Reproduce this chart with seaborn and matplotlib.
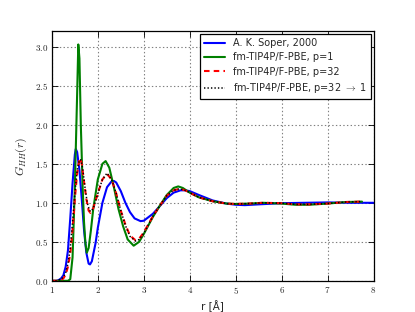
import matplotlib
matplotlib.use('Agg')
import matplotlib.pyplot as plt
import pandas as pd
import seaborn as sns
from matplotlib.ticker import FuncFormatter

# Soper 2000 reference
r_soper = [1.0, 1.1, 1.15, 1.2, 1.25, 1.3, 1.35, 1.4, 1.45, 1.5, 1.52, 1.55, 1.6, 1.65,
           1.7, 1.75, 1.8, 1.83, 1.87, 1.95, 2.0, 2.1, 2.2, 2.3, 2.35, 2.4, 2.5, 2.6,
           2.7, 2.8, 2.93, 3.0, 3.2, 3.33, 3.5, 3.65, 3.8, 3.9, 4.0, 4.2, 4.5, 4.8,
           5.0, 5.2, 5.5, 6.0, 6.5, 7.0, 7.5, 8.0]
g_soper = [0.0, 0.0, 0.01, 0.03, 0.07, 0.18, 0.39, 0.8, 1.25, 1.62, 1.69, 1.65, 1.42, 1.05,
           0.65, 0.36, 0.22, 0.21, 0.25, 0.48, 0.68, 1.0, 1.2, 1.275, 1.28, 1.26, 1.15, 1.0,
           0.88, 0.8, 0.765, 0.77, 0.86, 0.945, 1.06, 1.13, 1.16, 1.16, 1.15, 1.1, 1.03, 0.99,
           0.975, 0.97, 0.98, 0.995, 1.0, 1.005, 1.0, 1.0]

# fm-TIP4P/F-PBE, p=1
r_p1 = [1.0, 1.35, 1.4, 1.45, 1.5, 1.55, 1.575, 1.6, 1.63, 1.67, 1.7, 1.73, 1.76, 1.8,
        1.85, 1.9, 2.0, 2.1, 2.17, 2.25, 2.35, 2.45, 2.55, 2.65, 2.78, 2.9, 3.0, 3.2,
        3.33, 3.5, 3.65, 3.75, 3.85, 4.0, 4.2, 4.5, 4.8, 5.0, 5.3, 5.6, 6.0, 6.3, 6.6,
        7.0, 7.4, 7.75]
g_p1 = [0.0, 0.0, 0.02, 0.3, 1.2, 2.4, 3.03, 2.85, 2.0, 1.2, 0.75, 0.48, 0.36, 0.42,
        0.65, 0.92, 1.3, 1.5, 1.535, 1.45, 1.2, 0.92, 0.7, 0.53, 0.45, 0.5, 0.6, 0.82,
        0.945, 1.1, 1.19, 1.21, 1.19, 1.13, 1.07, 1.02, 0.99, 0.985, 0.99, 1.0, 0.99,
        0.975, 0.975, 0.99, 1.01, 1.015]

# fm-TIP4P/F-PBE, p=32
r_p32 = [1.0, 1.15, 1.2, 1.25, 1.3, 1.35, 1.4, 1.45, 1.5, 1.55, 1.6, 1.62, 1.65, 1.7,
         1.75, 1.8, 1.84, 1.9, 2.0, 2.1, 2.2, 2.3, 2.4, 2.5, 2.6, 2.7, 2.82, 2.9, 3.0,
         3.2, 3.33, 3.5, 3.65, 3.78, 3.9, 4.0, 4.2, 4.5, 4.8, 5.0, 5.3, 5.6, 6.0, 6.3,
         6.6, 7.0, 7.4, 7.75]
g_p32 = [0.0, 0.0, 0.01, 0.03, 0.08, 0.18, 0.35, 0.65, 1.05, 1.38, 1.56, 1.57, 1.5, 1.27,
         1.05, 0.9, 0.87, 0.93, 1.12, 1.3, 1.37, 1.3, 1.12, 0.9, 0.72, 0.58, 0.52, 0.54, 0.62,
         0.83, 0.945, 1.09, 1.16, 1.18, 1.16, 1.13, 1.07, 1.02, 0.99, 0.985, 0.99, 1.0, 0.995,
         0.98, 0.98, 0.99, 1.01, 1.015]

# fm-TIP4P/F-PBE, p=32 -> 1
r_p32_1 = [1.0, 1.1, 1.15, 1.2, 1.25, 1.3, 1.35, 1.4, 1.45, 1.5, 1.55, 1.6, 1.63, 1.67,
           1.72, 1.77, 1.82, 1.86, 1.92, 2.0, 2.1, 2.2, 2.3, 2.4, 2.5, 2.6, 2.7, 2.82,
           2.9, 3.0, 3.2, 3.33, 3.5, 3.65, 3.78, 3.9, 4.0, 4.2, 4.5, 4.8, 5.0, 5.3, 5.6,
           6.0, 6.3, 6.6, 7.0, 7.4, 7.75]
g_p32_1 = [0.0, 0.0, 0.01, 0.02, 0.05, 0.1, 0.22, 0.42, 0.75, 1.12, 1.42, 1.55, 1.55, 1.44,
           1.2, 1.0, 0.9, 0.89, 0.96, 1.12, 1.3, 1.38, 1.3, 1.12, 0.9, 0.71, 0.57, 0.51,
           0.53, 0.61, 0.83, 0.945, 1.09, 1.16, 1.18, 1.16, 1.13, 1.07, 1.02, 0.99, 0.985,
           0.99, 1.0, 0.995, 0.98, 0.98, 0.99, 1.01, 1.015]

labels = ['A. K. Soper, 2000', 'fm-TIP4P/F-PBE, p=1', 'fm-TIP4P/F-PBE, p=32',
          r'fm-TIP4P/F-PBE, p=32 $\rightarrow$ 1']

sns.set_style('white')
plt.rcParams['font.family'] = ['DejaVu Sans']
plt.rcParams['mathtext.fontset'] = 'cm'
plt.rcParams['lines.scale_dashes'] = False

fig, ax = plt.subplots(figsize=(4.15, 3.12), dpi=100)
fig.subplots_adjust(left=0.125, right=0.9, bottom=0.1, top=0.9)

series = [(r_soper, g_soper, 'blue', '-', 1.5),
          (r_p1, g_p1, 'green', '-', 1.5),
          (r_p32, g_p32, 'red', (0, (4, 3)), 1.5),
          (r_p32_1, g_p32_1, 'black', (0, (1, 1.5)), 1.1)]
for (x, y, c, ls, lw), lab in zip(series, labels):
    df = pd.DataFrame({'r': x, 'g': y})
    sns.lineplot(data=df, x='r', y='g', ax=ax, color=c, linestyle=ls,
                 linewidth=lw, label=lab)

ax.set_xlim(1, 8)
ax.set_ylim(0, 3.2)
ax.set_xticks(range(1, 9))
ax.set_yticks([0, 0.5, 1.0, 1.5, 2.0, 2.5, 3.0])
ax.xaxis.set_major_formatter(FuncFormatter(lambda v, p: r'$%d$' % v))
ax.yaxis.set_major_formatter(FuncFormatter(lambda v, p: r'$%.1f$' % v))
ax.tick_params(direction='in', length=4, width=0.6, labelsize=6.5, color='black',
               top=True, right=True, bottom=True, left=True, pad=3)
ax.grid(True, color='gray', linestyle=':', linewidth=0.8)
for s in ax.spines.values():
    s.set_color('black')
    s.set_linewidth(0.9)

ax.set_xlabel(r'r [Å]', fontsize=7.5, labelpad=3)
ax.set_ylabel(r'$G_{HH}(r)$', fontsize=8.5)

leg = ax.legend(loc='upper right', fontsize=7, frameon=True, fancybox=False,
                borderaxespad=0.3, handlelength=2.2, labelspacing=0.45)
leg.get_frame().set_edgecolor('black')
leg.get_frame().set_linewidth(0.9)
leg.get_frame().set_alpha(1)

fig.savefig('out.png', dpi=100)
